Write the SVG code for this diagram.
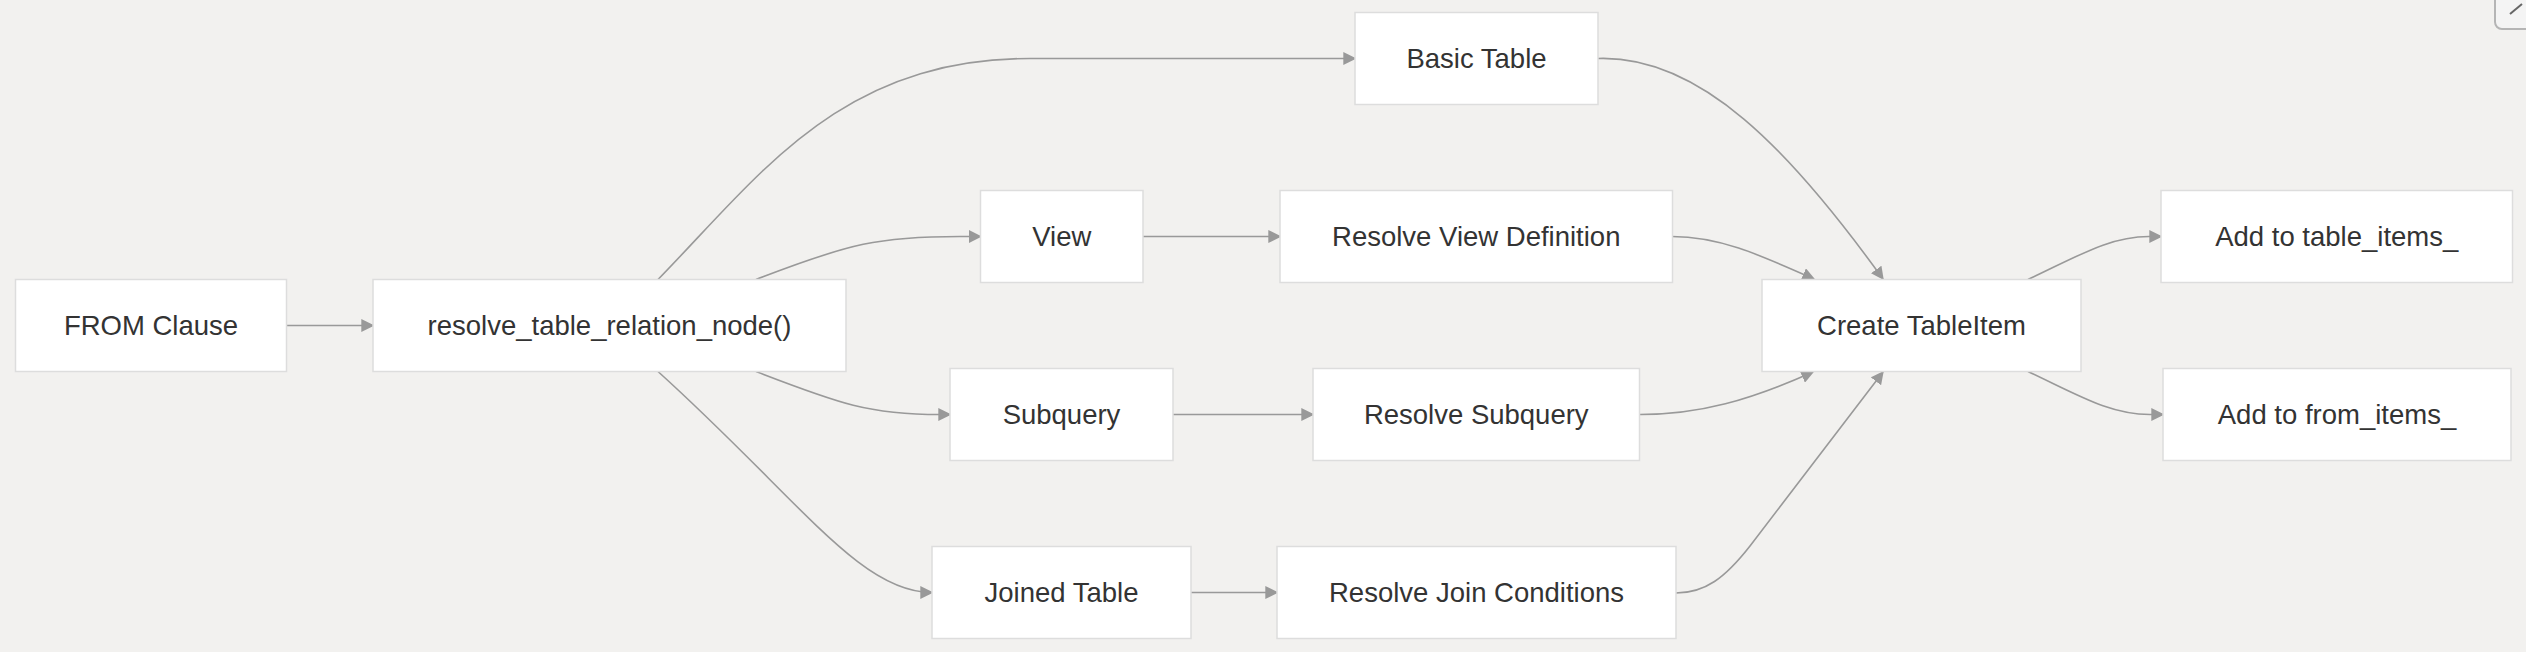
<svg xmlns="http://www.w3.org/2000/svg" width="2526" height="652" viewBox="0 0 2526 652">
<style>
.bg{fill:#f2f1ef}
.node rect{fill:#ffffff;stroke:#dddddd;stroke-width:1.5}
.node text{font-family:"Liberation Sans",Arial,sans-serif;font-size:27.5px;fill:#333333;text-anchor:middle}
.edge{fill:none;stroke:#999999;stroke-width:1.6}
</style>
<defs>
<marker id="arr" viewBox="0 0 10 10" refX="9" refY="5" markerWidth="13" markerHeight="13" markerUnits="userSpaceOnUse" orient="auto">
<path d="M0,0 L10,5 L0,10 z" fill="#999999"/>
</marker>
</defs>
<rect class="bg" x="0" y="0" width="2526" height="652"/>
<g id="connectors">
<path class="edge" marker-end="url(#arr)" d="M287,325.5 L373,325.5"/>
<path class="edge" marker-end="url(#arr)" d="M658,279.5 C760,175 840,58.5 1030,58.5 L1355,58.5"/>
<path class="edge" marker-end="url(#arr)" d="M756,279.5 C850,243 880,236.5 960,236.5 L980.5,236.5"/>
<path class="edge" marker-end="url(#arr)" d="M756,371.5 C840,404 870,414.5 940,414.5 L950,414.5"/>
<path class="edge" marker-end="url(#arr)" d="M658,371.5 C800,500 860,592.5 932,592.5"/>
<path class="edge" marker-end="url(#arr)" d="M1143,236.5 L1280,236.5"/>
<path class="edge" marker-end="url(#arr)" d="M1173,414.5 L1313,414.5"/>
<path class="edge" marker-end="url(#arr)" d="M1191,592.5 L1277,592.5"/>
<path class="edge" marker-end="url(#arr)" d="M1598,58.5 C1700,55 1790,150 1883,279"/>
<path class="edge" marker-end="url(#arr)" d="M1672,236.5 C1720,236.5 1760,255 1814,279"/>
<path class="edge" marker-end="url(#arr)" d="M1640,414.5 C1700,414.5 1750,400 1813,372"/>
<path class="edge" marker-end="url(#arr)" d="M1676,593 C1705,593 1725,578 1750,546 L1883,372"/>
<path class="edge" marker-end="url(#arr)" d="M2028,279.5 C2080,255 2110,236.5 2149,236.5 L2161,236.5"/>
<path class="edge" marker-end="url(#arr)" d="M2028,371.5 C2080,396 2110,414.5 2150,414.5 L2163,414.5"/>
</g>
<g id="n-from" class="node"><rect x="15.5" y="279.5" width="271" height="92"/><text x="151" y="335">FROM Clause</text></g>
<g id="n-resolve" class="node"><rect x="373" y="279.5" width="473" height="92"/><text x="609.5" y="335">resolve_table_relation_node()</text></g>
<g id="n-basic" class="node"><rect x="1355" y="12.5" width="243" height="92"/><text x="1476.5" y="68">Basic Table</text></g>
<g id="n-view" class="node"><rect x="980.5" y="190.5" width="162.5" height="92"/><text x="1061.75" y="246">View</text></g>
<g id="n-subquery" class="node"><rect x="950" y="368.5" width="223" height="92"/><text x="1061.5" y="424">Subquery</text></g>
<g id="n-joined" class="node"><rect x="932" y="546.5" width="259" height="92"/><text x="1061.5" y="602">Joined Table</text></g>
<g id="n-rview" class="node"><rect x="1280" y="190.5" width="392.5" height="92"/><text x="1476.25" y="246">Resolve View Definition</text></g>
<g id="n-rsub" class="node"><rect x="1313" y="368.5" width="326.5" height="92"/><text x="1476.25" y="424">Resolve Subquery</text></g>
<g id="n-rjoin" class="node"><rect x="1277" y="546.5" width="399" height="92"/><text x="1476.5" y="602">Resolve Join Conditions</text></g>
<g id="n-create" class="node"><rect x="1762" y="279.5" width="319" height="92"/><text x="1921.5" y="335">Create TableItem</text></g>
<g id="n-addtable" class="node"><rect x="2161" y="190.5" width="351.5" height="92"/><text x="2336.75" y="246">Add to table_items_</text></g>
<g id="n-addfrom" class="node"><rect x="2163" y="368.5" width="348" height="92"/><text x="2337" y="424">Add to from_items_</text></g>
<g id="close-btn">
<rect x="2495" y="-20" width="45" height="49" rx="7" fill="#f4f4f4" stroke="#b5b5b5" stroke-width="2"/>
<line x1="2510" y1="14" x2="2522" y2="4" stroke="#666666" stroke-width="2"/>
</g>
</svg>
